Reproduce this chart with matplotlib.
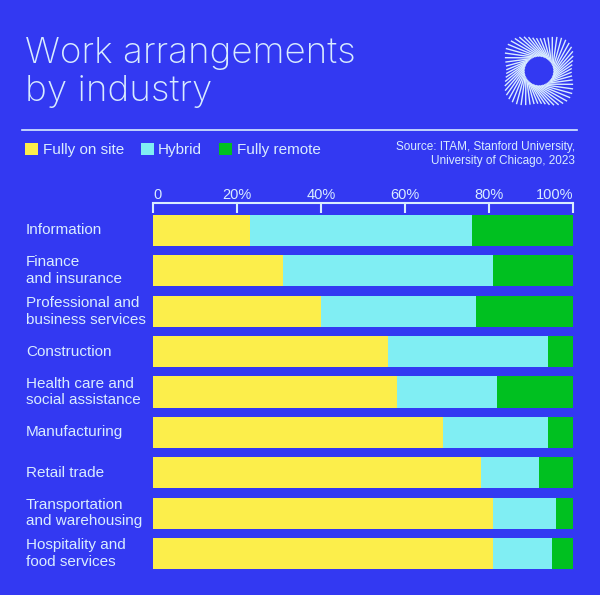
import numpy as np
import matplotlib
matplotlib.use("Agg")
import matplotlib.pyplot as plt
from matplotlib.lines import Line2D

# ---- data ----
industries = ["Information", "Finance\nand insurance", "Professional and\nbusiness services",
              "Construction", "Health care and\nsocial assistance", "Manufacturing",
              "Retail trade", "Transportation\nand warehousing", "Hospitality and\nfood services"]
fully_on_site = [23, 31, 40, 56, 58, 69, 78, 81, 81]
hybrid = [53, 50, 37, 38, 24, 25, 14, 15, 14]
fully_remote = [24, 19, 23, 6, 18, 6, 8, 4, 5]
series_names = ["Fully on site", "Hybrid", "Fully remote"]
tick_values = [0, 20, 40, 60, 80, 100]
tick_labels = ["0", "20%", "40%", "60%", "80%", "100%"]

BG = "#3339F2"
FG = "#D9ECFF"
COLORS = ["#FCEE4B", "#80EEF3", "#00C020"]

plt.rcParams['font.family'] = ['Liberation Sans', 'DejaVu Sans']

W, H = 600, 595
fig = plt.figure(figsize=(6, 5.95), dpi=100, facecolor=BG)

def fx(px):
    return px / W

def fy(py):
    return 1 - py / H

# title
fig.text(fx(25), fy(63), "Work arrangements", color=FG, fontsize=26.5,
         family=['Inter', 'DejaVu Sans'], fontweight='light', va='baseline', ha='left')
fig.text(fx(25), fy(101), "by industry", color=FG, fontsize=26.5,
         family=['Inter', 'DejaVu Sans'], fontweight='light', va='baseline', ha='left')

# rule
fig.add_artist(Line2D([fx(22), fx(577)], [fy(130), fy(130)], color=FG, lw=1.2))

# source
fig.text(fx(575), fy(154), "Source: ITAM, Stanford University,\nUniversity of Chicago, 2023",
         color=FG, fontsize=8.5, ha='right', va='center', linespacing=1.3)

# main axes
ax = fig.add_axes([fx(153), fy(574), fx(573) - fx(153), (574 - 203) / H])
ax.set_facecolor(BG)
y = np.arange(len(industries))
h = 0.77
left = np.zeros(len(industries))
bars = []
for vals, c, name in zip([fully_on_site, hybrid, fully_remote], COLORS, series_names):
    b = ax.barh(y, vals, left=left, height=h, color=c, label=name, linewidth=0)
    bars.append(b)
    left = left + np.array(vals)

ax.set_xlim(0, 100)
ax.set_ylim(8.508, -0.681)
for s in ["bottom", "left", "right"]:
    ax.spines[s].set_visible(False)
ax.spines["top"].set_color(FG)
ax.spines["top"].set_linewidth(1.5)
ax.xaxis.tick_top()
ax.set_xticks(tick_values)
ax.set_xticklabels(tick_labels)
ax.tick_params(axis='x', direction='in', length=7, width=1.5, color=FG,
               labelcolor=FG, labelsize=10.5, pad=1)
lbls = ax.get_xticklabels()
lbls[0].set_ha('left')
lbls[-1].set_ha('right')
ax.set_yticks(y)
ax.set_yticklabels([])
ax.tick_params(axis='y', length=0)
for yi, name in zip(y, industries):
    ax.annotate(name, xy=(0, yi), xycoords=('figure fraction', 'data'),
                xytext=(26 * 0.72, 0), textcoords='offset points',
                color=FG, fontsize=11, ha='left', va='center', linespacing=1.25)

# legend
leg = fig.legend(handles=bars, labels=series_names, loc='center left',
                 bbox_to_anchor=(fx(25), fy(150)), ncol=3, frameon=False,
                 fontsize=11, handlelength=0.85, handleheight=0.85,
                 handletextpad=0.3, columnspacing=1.1, borderpad=0, borderaxespad=0)
for t in leg.get_texts():
    t.set_color(FG)

# logo
lax = fig.add_axes([fx(496), fy(114), fx(86), 86 / H])
lax.set_facecolor(BG)
lax.axis('off')
lax.set_xlim(-1.0, 1.0)
lax.set_ylim(-1.0, 1.0)
lax.set_aspect('equal')
N = 56
for i in range(N):
    th = 2 * np.pi * i / N
    phi = th + 0.75
    r_out = 0.86 - 0.1 * np.cos(4 * phi)
    x0, y0 = 0.34 * np.cos(th), 0.34 * np.sin(th)
    x1, y1 = r_out * np.cos(phi), r_out * np.sin(phi)
    lax.plot([x0, x1], [y0, y1], color=FG, lw=1.0, solid_capstyle='butt')

fig.savefig("out.png", dpi=100, facecolor=BG)
